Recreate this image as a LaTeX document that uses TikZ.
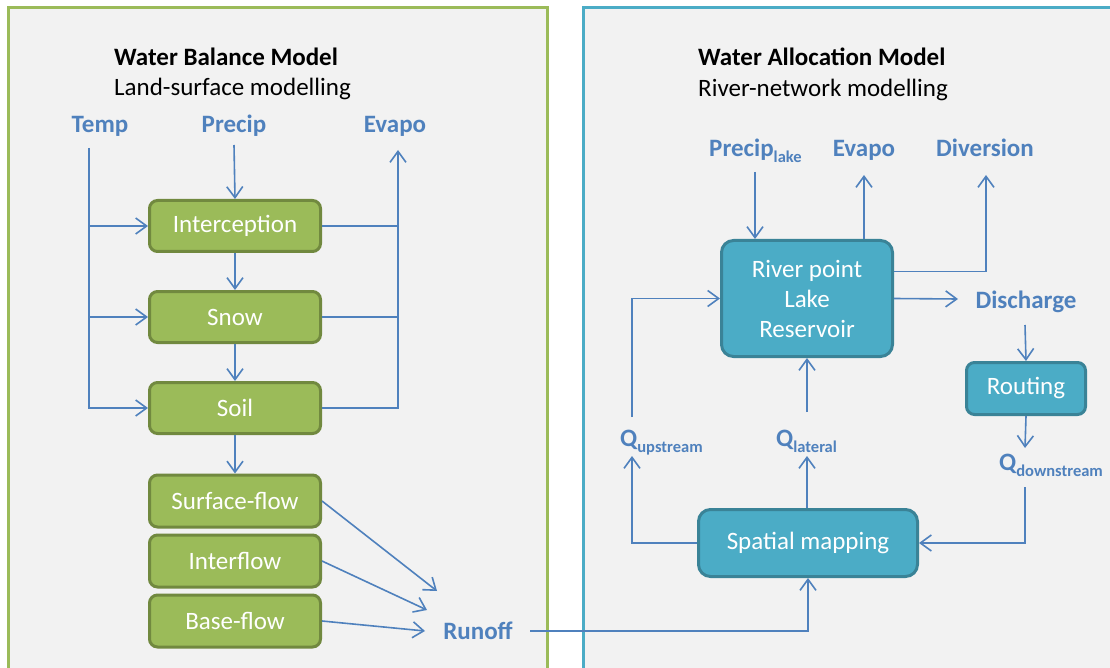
\documentclass[tikz,border=0pt]{standalone}
\usepackage{fontspec}
\setmainfont{Carlito}
\usetikzlibrary{arrows.meta}
\definecolor{lblue}{HTML}{4F81BD}
\definecolor{panelbg}{HTML}{F2F2F2}
\definecolor{greenedge}{HTML}{9BBB59}
\definecolor{blueedge}{HTML}{4BACC6}
\definecolor{gfill}{HTML}{9BBB59}
\definecolor{gdraw}{HTML}{71893F}
\definecolor{bfill}{HTML}{4BACC6}
\definecolor{bdraw}{HTML}{3A8397}
\tikzset{
  gbox/.style={draw=gdraw, fill=gfill, line width=3pt, rounded corners=8pt,
    minimum width=171pt, minimum height=51pt, inner sep=0pt, text=white,
    font=\fontsize{25}{30}\selectfont},
  bbox/.style={draw=bdraw, fill=bfill, line width=3pt, rounded corners=12pt,
    inner sep=0pt, text=white, align=center, font=\fontsize{25}{30}\selectfont},
  lbl/.style={text=lblue, inner sep=0pt, font=\bfseries\fontsize{25}{30}\selectfont},
  ttl/.style={inner sep=0pt, anchor=base west, font=\fontsize{25}{30}\selectfont},
  arr/.style={draw=lblue, line width=1.6pt,
    -{Straight Barb[length=11pt,width=16pt,line width=1.6pt]}},
  ln/.style={draw=lblue, line width=1.6pt},
}
\newcommand{\sbs}[1]{\raisebox{-6pt}{\fontsize{16.5}{17}\selectfont #1}}
\begin{document}
\begin{tikzpicture}[x=1pt,y=-1pt]
\useasboundingbox (0,0) rectangle (1110,668);
\fill[white] (0,0) rectangle (1110,668);
% the two model panels, open at the bottom edge
\begin{scope}
  \clip (0,0) rectangle (1110,668);
  \draw[greenedge, line width=3pt, fill=panelbg] (8,8) rectangle (547,700);
  \draw[blueedge, line width=3pt, fill=panelbg] (583,8) rectangle (1130,700);
\end{scope}

% ---------- Water Balance Model ----------
\node[ttl, font=\bfseries\fontsize{25}{30}\selectfont] (wbm) at (114,66) {Water Balance Model};
\node[ttl] (wbmsub) at (114,96) {Land-surface modelling};

\node[lbl, anchor=base] (temp) at (100,133) {Temp};
\node[lbl, anchor=base] (precip) at (234,133) {Precip};
\node[lbl, anchor=base] (evapoL) at (395,133) {Evapo};

\node[gbox] (inter) at (235,226) {Interception};
\node[gbox] (snow) at (235,317) {Snow};
\node[gbox] (soil) at (235,408) {Soil};
\node[gbox, minimum height=52pt] (surf) at (235,501) {Surface-flow};
\node[gbox, minimum height=52pt] (interf) at (235,561) {Interflow};
\node[gbox, minimum height=52pt] (base) at (235,621) {Base-flow};

\node[lbl, anchor=base] (runoff) at (478,639) {Runoff};

\coordinate (tempfoot) at (89,148);
\coordinate (precipfoot) at (234,145);
\coordinate (evapotip) at (398,150);
\coordinate (ro1) at (437,591);
\coordinate (ro2) at (427,610);
\coordinate (ro3) at (425,631);
\coordinate (roout) at (530,631);

\draw[arr] (precipfoot) -- (inter.north);
\draw[arr] (inter.south) -- (snow.north);
\draw[arr] (snow.south) -- (soil.north);
\draw[arr] (soil.south) -- (surf.north);

\draw[arr] (tempfoot) |- (soil.west);
\draw[arr] (tempfoot |- inter.west) -- (inter.west);
\draw[arr] (tempfoot |- snow.west) -- (snow.west);

\draw[arr] (soil.east) -| (evapotip);
\draw[ln] (inter.east) -- (inter.east -| evapotip);
\draw[ln] (snow.east) -- (snow.east -| evapotip);

\draw[arr] (surf.east) -- (ro1);
\draw[arr] (interf.east) -- (ro2);
\draw[arr] (base.east) -- (ro3);

% ---------- Water Allocation Model ----------
\node[ttl, font=\bfseries\fontsize{25}{30}\selectfont] (wam) at (698,66) {Water Allocation Model};
\node[ttl] (wamsub) at (698,97) {River-network modelling};

\node[lbl, anchor=base west] (precipl) at (709,157) {Precip\sbs{lake}};
\node[lbl, anchor=base] (evapoR) at (864,157) {Evapo};
\node[lbl, anchor=base] (diversion) at (985,157) {Diversion};
\node[lbl, anchor=base] (discharge) at (1026,308) {Discharge};

\node[bbox, minimum width=171pt, minimum height=116pt] (river) at (807,298.5)
  {River point\\Lake\\Reservoir};
\node[bbox, rounded corners=8pt, minimum width=119pt, minimum height=52pt] (routing)
  at (1026,388.5) {Routing};
\node[bbox, minimum width=219pt, minimum height=67pt] (spatial) at (808,543)
  {Spatial mapping};

\node[lbl, anchor=base west] (qup) at (620,446) {Q\sbs{upstream}};
\node[lbl, anchor=base west] (qlat) at (776,446) {Q\sbs{lateral}};
\node[lbl, anchor=base west] (qdown) at (999,470) {Q\sbs{downstream}};

\coordinate (plfoot) at (755,172);
\coordinate (evtip) at (864,175);
\coordinate (dvtip) at (986,175);
\coordinate (dctip) at (958,299);
\coordinate (dcfoot) at (1025,325);
\coordinate (qdtip) at (1025,448);
\coordinate (qdfoot) at (1025,487);
\coordinate (quptip) at (632,456);
\coordinate (qupfoot) at (632,417);
\coordinate (qlattip) at (807,456);
\coordinate (qlatfoot) at (807,412);

\draw[arr] (plfoot) -- (plfoot |- river.north);
\draw[arr] (evtip |- river.north) -- (evtip);
\draw[arr] ([yshift=27pt]river.east) -| (dvtip);
\draw[arr] (river.east) -- (dctip);
\draw[arr] (dcfoot) -- (routing.north);
\draw[arr] (routing.south) -- (qdtip);
\draw[arr] (qdfoot) |- (spatial.east);
\draw[arr] (spatial.west) -| (quptip);
\draw[arr] (qupfoot) |- (river.west);
\draw[arr] (qlattip |- spatial.north) -- (qlattip);
\draw[arr] (qlatfoot) -- (qlatfoot |- river.south);
\draw[arr] (roout) -| (spatial.south);
\end{tikzpicture}
\end{document}
